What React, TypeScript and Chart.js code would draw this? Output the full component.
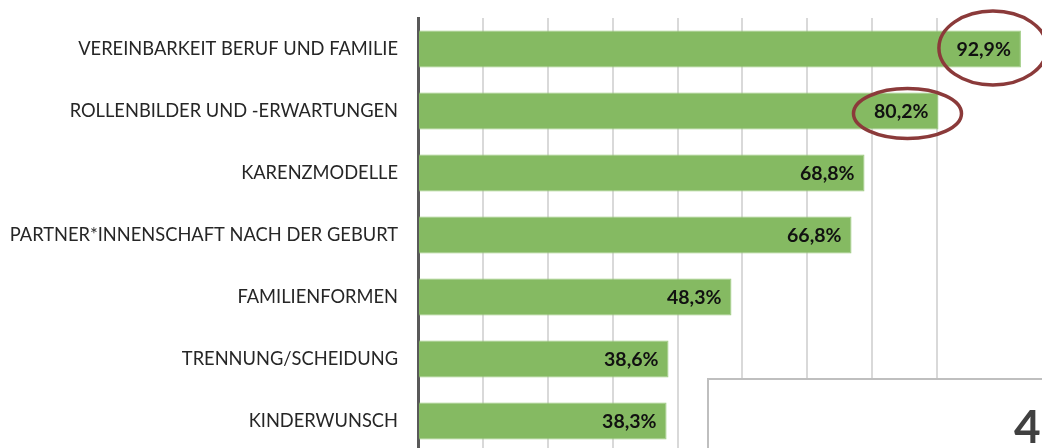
import React, { useEffect, useRef } from "react";
import { Chart, registerables } from "chart.js";

Chart.register(...registerables);

const categories = [
  "VEREINBARKEIT BERUF UND FAMILIE",
  "ROLLENBILDER UND -ERWARTUNGEN",
  "KARENZMODELLE",
  "PARTNER*INNENSCHAFT NACH DER GEBURT",
  "FAMILIENFORMEN",
  "TRENNUNG/SCHEIDUNG",
  "KINDERWUNSCH",
];
const values = [92.9, 80.2, 68.8, 66.8, 48.3, 38.6, 38.3];
const highlighted = [0, 1];
const boxText = "4";

const fmt = (v: number) => v.toFixed(1).replace(".", ",") + "%";

const overlayPlugin = {
  id: "overlay",
  afterDatasetsDraw(chart: any) {
    const ctx = chart.ctx;
    const meta = chart.getDatasetMeta(0);
    ctx.save();
    ctx.font = "bold 19.5px Lato";
    ctx.fillStyle = "#111";
    ctx.textAlign = "right";
    ctx.textBaseline = "middle";
    meta.data.forEach((bar: any, i: number) => {
      ctx.fillText(fmt(values[i]), bar.x - 10, bar.y + 1);
    });
    ctx.restore();
  },
  afterDraw(chart: any) {
    const ctx = chart.ctx;
    const meta = chart.getDatasetMeta(0);
    ctx.save();
    ctx.strokeStyle = "#8B3A3A";
    ctx.lineWidth = 3.5;
    const shapes = [
      { dx: -28, dy: -1, rx: 54, ry: 37 },
      { dx: -31, dy: 2.5, rx: 54, ry: 25 },
    ];
    highlighted.forEach((idx, k) => {
      const bar = meta.data[idx];
      const s = shapes[k];
      ctx.beginPath();
      ctx.ellipse(bar.x + s.dx, bar.y + s.dy, s.rx, s.ry, 0, 0, Math.PI * 2);
      ctx.stroke();
    });
    ctx.fillStyle = "#ffffff";
    ctx.fillRect(708, 379, 400, 200);
    ctx.strokeStyle = "#bfbfbf";
    ctx.lineWidth = 2;
    ctx.strokeRect(708, 379, 400, 200);
    ctx.fillStyle = "#404040";
    ctx.font = "bold 46px Lato";
    ctx.textAlign = "left";
    ctx.textBaseline = "alphabetic";
    ctx.fillText(boxText, 1014, 443);
    ctx.restore();
  },
};

export default function App() {
  const ref = useRef<HTMLCanvasElement>(null);
  useEffect(() => {
    document.body.style.margin = "0";
    document.body.style.overflow = "hidden";
    const chart = new Chart(ref.current!, {
      type: "bar",
      data: {
        labels: categories,
        datasets: [
          {
            data: values,
            backgroundColor: "#85BA62",
            borderColor: "#9ACA7D",
            borderWidth: 1,
            categoryPercentage: 1,
            barPercentage: 0.6,
          },
        ],
      },
      options: {
        indexAxis: "y",
        animation: false,
        responsive: false,
        layout: { padding: { top: 18, left: 0, right: 0, bottom: 0 } },
        plugins: { legend: { display: false }, tooltip: { enabled: false } },
        scales: {
          x: {
            min: 0,
            max: 96.15,
            ticks: { display: false, stepSize: 10 },
            border: { display: false },
            grid: {
              drawTicks: false,
              lineWidth: 2,
              color: (c: any) =>
                c.tick && Math.abs(c.tick.value % 10) < 0.001 ? "#d9d9d9" : "rgba(0,0,0,0)",
            },
            afterFit: (s: any) => {
              s.height = 0;
              s.paddingLeft = 0;
              s.paddingRight = 0;
            },
          },
          y: {
            ticks: {
              font: { family: "Lato", size: 18.3 },
              color: "#262626",
              padding: 20,
            },
            grid: { drawOnChartArea: false, drawTicks: false },
            border: { display: true, color: "#595959", width: 3 },
            afterFit: (s: any) => {
              s.width = 418;
              s.paddingTop = 0;
              s.paddingBottom = 0;
            },
          },
        },
      },
      plugins: [overlayPlugin],
    });
    return () => chart.destroy();
  }, []);
  return <canvas ref={ref} width={1042} height={452} style={{ display: "block" }} />;
}
